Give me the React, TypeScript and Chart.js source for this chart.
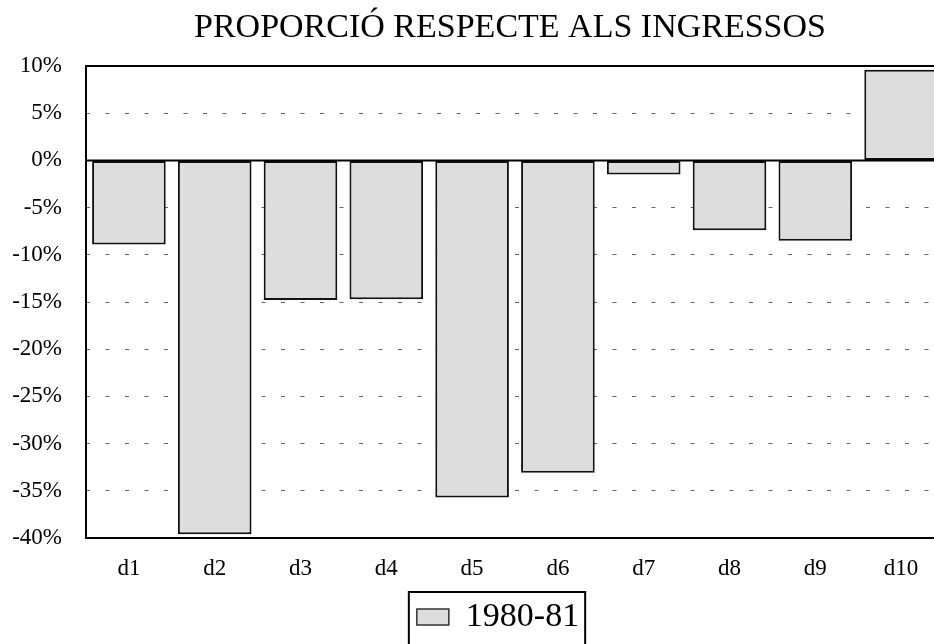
import React, { useEffect, useRef } from 'react';
import { Chart, registerables } from 'chart.js';

Chart.register(...registerables);

const TITLE = 'PROPORCIÓ RESPECTE ALS INGRESSOS';
const categories = ['d1', 'd2', 'd3', 'd4', 'd5', 'd6', 'd7', 'd8', 'd9', 'd10'];
const seriesLabel = '1980-81';
const seriesValues = [-8.9, -39.6, -14.8, -14.7, -35.7, -33.1, -1.5, -7.4, -8.5, 9.6];
const yMin = -40;
const yMax = 10;
const yStep = 5;

const SERIF = "'Liberation Serif', 'Times New Roman', serif";
const TICK_SIZE = 23;

const fmtPct = (v: number) => `${v}%`;

function widestTickLabel(): number {
  const c = document.createElement('canvas');
  const ctx = c.getContext('2d');
  if (!ctx) return 50;
  ctx.font = `${TICK_SIZE}px ${SERIF}`;
  let w = 0;
  for (let v = yMin; v <= yMax; v += yStep) {
    w = Math.max(w, ctx.measureText(fmtPct(v)).width);
  }
  return w;
}

const decorPlugin = {
  id: 'decor',
  afterDatasetsDraw(chart: any) {
    const { ctx, chartArea, scales } = chart;
    const { left, right, top, bottom } = chartArea;
    const y0 = scales.y.getPixelForValue(0);
    ctx.save();
    ctx.strokeStyle = '#000';
    ctx.lineWidth = 2;
    ctx.beginPath();
    ctx.moveTo(left, y0);
    ctx.lineTo(right, y0);
    ctx.stroke();
    ctx.strokeRect(left, top, right - left, bottom - top);
    ctx.restore();
  },
  afterDraw(chart: any) {
    const { ctx, chartArea } = chart;
    ctx.save();
    ctx.fillStyle = '#000';
    ctx.font = `34px ${SERIF}`;
    ctx.textAlign = 'center';
    ctx.textBaseline = 'alphabetic';
    ctx.fillText(TITLE, (chartArea.left + chartArea.right) / 2 - 5, 37);
    const lg = chart.legend;
    if (lg && lg.legendHitBoxes && lg.legendHitBoxes.length) {
      const hb = lg.legendHitBoxes[0];
      ctx.strokeStyle = '#000';
      ctx.lineWidth = 2;
      ctx.strokeRect(hb.left - 8, lg.top + 2, hb.width + 14, 120);
    }
    ctx.restore();
  },
};

export default function App() {
  const canvasRef = useRef<HTMLCanvasElement | null>(null);

  useEffect(() => {
    const canvas = canvasRef.current;
    if (!canvas) return;
    const yAxisWidth = 34;
    const labelRightGap = 24;
    const widest = widestTickLabel();
    const chart = new Chart(canvas, {
      type: 'bar',
      data: {
        labels: categories,
        datasets: [
          {
            label: seriesLabel,
            data: seriesValues,
            backgroundColor: '#dddddd',
            borderColor: '#111111',
            borderWidth: 2,
            borderSkipped: false,
            categoryPercentage: 1,
            barPercentage: 0.858,
          },
        ],
      },
      options: {
        responsive: false,
        animation: false,
        devicePixelRatio: 1,
        layout: { padding: { top: 66, left: 52, right: 0, bottom: 0 } },
        scales: {
          x: {
            type: 'category',
            offset: true,
            grid: { display: false, drawTicks: false },
            border: { display: false },
            ticks: {
              color: '#000',
              font: { family: SERIF, size: TICK_SIZE },
              padding: 17,
              maxRotation: 0,
            },
            afterFit: (scale: any) => {
              scale.height = 52;
            },
          },
          y: {
            min: yMin,
            max: yMax,
            grid: {
              drawTicks: false,
              lineWidth: 1,
              color: (c: any) => {
                const v = c.tick ? c.tick.value : null;
                if (v === 0 || v === yMin || v === yMax) return 'rgba(0,0,0,0)';
                return '#666666';
              },
            },
            border: { display: false, dash: [4, 15.5] },
            ticks: {
              stepSize: yStep,
              color: '#000',
              font: { family: SERIF, size: TICK_SIZE },
              mirror: true,
              crossAlign: 'far',
              padding: -(labelRightGap + widest),
              callback: (v: any) => fmtPct(v),
            },
            afterFit: (scale: any) => {
              scale.width = yAxisWidth;
            },
          },
        },
        plugins: {
          title: { display: false },
          tooltip: { enabled: false },
          legend: {
            display: true,
            position: 'bottom',
            labels: {
              color: '#000',
              font: { family: SERIF, size: 34 },
              boxWidth: 32,
              boxHeight: 16,
              padding: 10,
              generateLabels: (ch: any) => {
                const items = (Chart as any).defaults.plugins.legend.labels.generateLabels(ch);
                items.forEach((it: any) => {
                  it.lineWidth = 1.5;
                  it.strokeStyle = '#333';
                });
                return items;
              },
            },
          },
        },
      },
      plugins: [decorPlugin],
    } as any);
    return () => chart.destroy();
  }, []);

  return (
    <div
      style={{
        position: 'absolute',
        left: 0,
        top: 0,
        width: 934,
        height: 644,
        overflow: 'hidden',
        background: '#fff',
      }}
    >
      <canvas ref={canvasRef} width={944} height={644} style={{ width: 944, height: 644, display: 'block' }} />
    </div>
  );
}
